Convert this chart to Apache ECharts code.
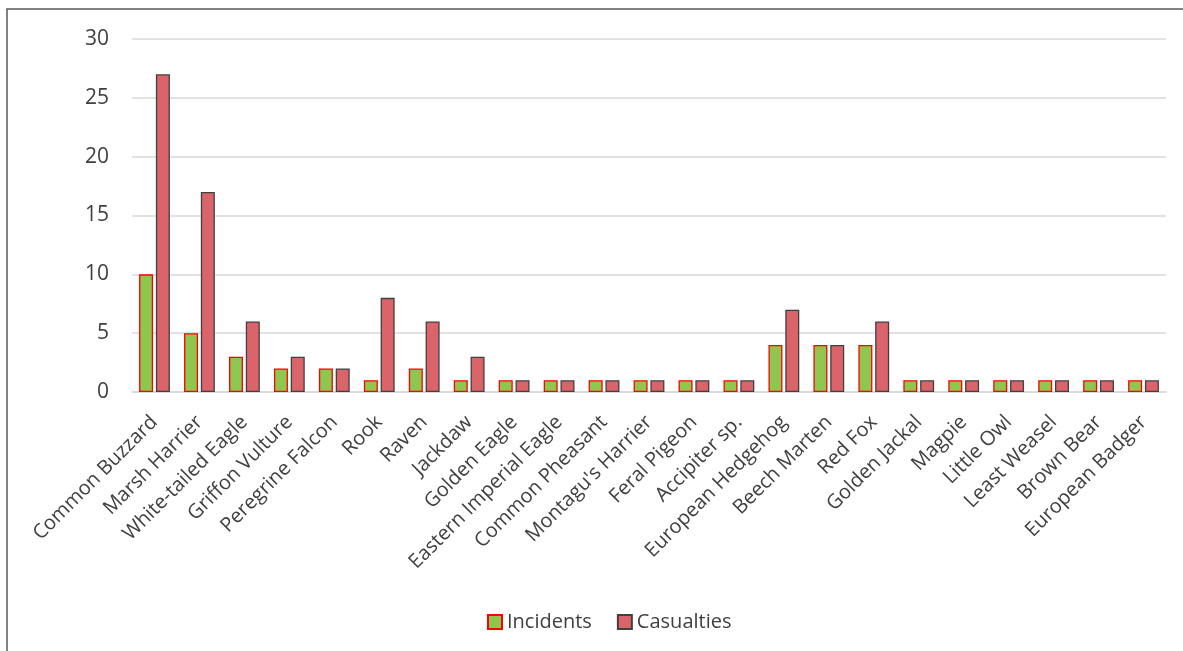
<!DOCTYPE html>
<html>
<head>
<meta charset="utf-8">
<script src="https://cdn.jsdelivr.net/npm/echarts@6/dist/echarts.min.js"></script>
<style>
  html, body { margin: 0; padding: 0; background: #fff; }
  #chart { width: 1183px; height: 651px; }
</style>
</head>
<body>
<div id="chart"></div>
<script>
const categories = [
  'Common Buzzard', 'Marsh Harrier', 'White-tailed Eagle', 'Griffon Vulture',
  'Peregrine Falcon', 'Rook', 'Raven', 'Jackdaw', 'Golden Eagle',
  'Eastern Imperial Eagle', 'Common Pheasant', "Montagu's Harrier",
  'Feral Pigeon', 'Accipiter sp.', 'European Hedgehog', 'Beech Marten',
  'Red Fox', 'Golden Jackal', 'Magpie', 'Little Owl', 'Least Weasel',
  'Brown Bear', 'European Badger'
];
const incidents  = [10, 5, 3, 2, 2, 1, 2, 1, 1, 1, 1, 1, 1, 1, 4, 4, 4, 1, 1, 1, 1, 1, 1];
const casualties = [27, 17, 6, 3, 2, 8, 6, 3, 1, 1, 1, 1, 1, 1, 7, 4, 6, 1, 1, 1, 1, 1, 1];
const yTicks = [0, 5, 10, 15, 20, 25, 30];

const FONT = 'Open Sans';
const TEXT = '#404040';

const chart = echarts.init(document.getElementById('chart'), null, { renderer: 'canvas' });
chart.setOption({
  backgroundColor: '#fff',
  animation: false,
  textStyle: { fontFamily: FONT },
  graphic: [{
    type: 'rect',
    shape: { x: 7, y: 9, width: 1300, height: 800 },
    style: { fill: 'none', stroke: '#595959', lineWidth: 1.5 },
    silent: true
  }],
  grid: { left: 132, right: 17, top: 39, bottom: 259, containLabel: false },
  legend: {
    top: 607,
    left: 482,
    icon: 'rect',
    itemWidth: 14,
    itemHeight: 14,
    itemGap: 25,
    textStyle: { fontFamily: FONT, fontSize: 20, color: TEXT },
    data: ['Incidents', 'Casualties']
  },
  xAxis: {
    type: 'category',
    data: categories,
    axisLine: { lineStyle: { color: '#d9d9d9', width: 1.5 } },
    axisTick: { show: false },
    axisLabel: {
      interval: 0,
      rotate: 45,
      margin: 27,
      fontFamily: FONT,
      fontSize: 20,
      color: TEXT
    }
  },
  yAxis: {
    type: 'value',
    min: yTicks[0],
    max: yTicks[yTicks.length - 1],
    interval: 5,
    axisLine: { show: false },
    axisTick: { show: false },
    splitLine: { lineStyle: { color: '#d9d9d9', width: 1.5 } },
    axisLabel: {
      margin: 23,
      fontFamily: FONT,
      fontSize: 21,
      color: TEXT
    }
  },
  series: [
    {
      name: 'Incidents',
      type: 'bar',
      data: incidents,
      barWidth: 14,
      barGap: '20%',
      itemStyle: { color: '#8fc64d', borderColor: '#ff0000', borderWidth: 1.3 }
    },
    {
      name: 'Casualties',
      type: 'bar',
      data: casualties,
      barWidth: 14,
      itemStyle: { color: '#db646b', borderColor: '#404040', borderWidth: 1.3 }
    }
  ]
});
</script>
</body>
</html>
